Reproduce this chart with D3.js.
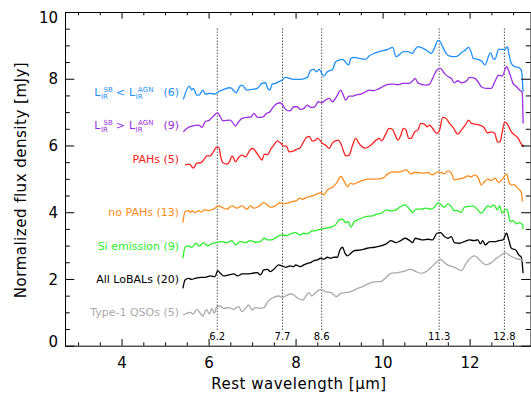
<!DOCTYPE html>
<html>
<head>
<meta charset="utf-8">
<script src="https://cdn.jsdelivr.net/npm/d3@7"></script>
<style>
    body { margin: 0; background: #fff; }
    svg { display: block; font-family: 'DejaVu Sans', sans-serif; }
    .lbl text { white-space: pre; }
</style>
</head>
<body>
<svg id="chart" width="531" height="396"></svg>
<script>
// composite spectra, [wavelength (um), flux (mJy)], already offset as in the figure
const sbLessAgn = [[5.42,7.38],[5.56,7.78],[5.61,7.66],[5.65,7.71],[5.73,7.51],[5.78,7.51],[5.87,7.66],[5.92,7.54],[6.04,7.56],[6.15,7.54],[6.23,7.61],[6.35,7.68],[6.5,7.73],[6.64,7.58],[6.71,7.76],[6.77,7.81],[6.88,7.66],[7.0,7.68],[7.12,7.71],[7.23,7.86],[7.31,7.88],[7.36,7.71],[7.41,7.66],[7.46,7.84],[7.54,7.86],[7.61,7.91],[7.69,7.96],[7.77,8.04],[7.96,7.98],[8.11,7.98],[8.27,8.04],[8.35,8.26],[8.42,8.28],[8.48,8.21],[8.54,8.28],[8.65,8.08],[8.73,8.21],[8.85,8.28],[8.92,8.51],[9.0,8.56],[9.08,8.58],[9.22,8.41],[9.27,8.61],[9.35,8.64],[9.46,8.61],[9.61,8.58],[9.69,8.68],[9.81,8.76],[9.92,8.81],[10.12,8.88],[10.23,8.94],[10.31,8.66],[10.48,8.81],[10.58,8.81],[10.68,8.76],[10.75,8.88],[10.81,8.96],[11.0,8.86],[11.12,8.76],[11.19,8.91],[11.27,9.14],[11.3,9.14],[11.38,8.96],[11.46,8.76],[11.54,8.68],[11.69,8.66],[11.81,8.78],[11.88,8.84],[11.98,8.94],[12.04,8.78],[12.08,8.61],[12.19,8.58],[12.29,8.51],[12.35,8.41],[12.48,8.78],[12.54,8.61],[12.58,8.58],[12.67,8.88],[12.81,8.88],[12.87,8.96],[12.9,8.76],[12.96,8.46],[13.04,8.36],[13.12,8.34],[13.19,8.26],[13.23,7.61]]
const sbMoreAgn = [[5.42,6.41],[5.5,6.51],[5.62,6.58],[5.77,6.61],[5.85,6.54],[5.92,6.71],[6.02,6.76],[6.11,6.88],[6.21,6.98],[6.27,6.86],[6.33,6.74],[6.5,6.76],[6.58,6.64],[6.62,6.58],[6.69,6.71],[6.77,6.81],[6.88,6.84],[6.98,6.86],[7.04,6.96],[7.13,6.84],[7.25,6.86],[7.33,6.96],[7.41,7.01],[7.48,7.14],[7.58,7.26],[7.65,7.28],[7.72,7.18],[7.77,7.08],[7.87,7.04],[7.96,7.16],[8.04,7.16],[8.11,7.08],[8.2,7.12],[8.27,7.21],[8.35,7.14],[8.44,7.16],[8.52,7.31],[8.6,7.28],[8.69,7.36],[8.77,7.41],[8.85,7.31],[8.94,7.46],[9.04,7.66],[9.1,7.5],[9.15,7.36],[9.23,7.48],[9.3,7.48],[9.38,7.51],[9.5,7.54],[9.61,7.61],[9.69,7.66],[9.78,7.64],[9.88,7.68],[10.0,7.76],[10.12,7.83],[10.23,7.84],[10.35,7.82],[10.46,7.86],[10.6,7.86],[10.71,7.96],[10.75,8.01],[10.81,7.88],[10.88,7.84],[11.0,7.81],[11.08,7.84],[11.15,8.01],[11.25,8.26],[11.33,8.31],[11.42,8.16],[11.51,8.06],[11.58,8.01],[11.65,7.88],[11.73,7.94],[11.81,7.88],[11.92,7.92],[12.0,8.04],[12.12,8.01],[12.2,7.9],[12.27,7.76],[12.38,7.71],[12.5,7.71],[12.58,7.91],[12.67,8.11],[12.75,8.08],[12.85,8.36],[12.92,8.16],[13.0,7.86],[13.08,7.76],[13.15,7.66],[13.21,7.58],[13.23,6.66]]
const pahs = [[5.46,5.42],[5.56,5.44],[5.65,5.32],[5.73,5.47],[5.82,5.48],[5.9,5.59],[5.96,5.69],[6.04,5.69],[6.11,5.81],[6.19,5.95],[6.24,5.93],[6.28,5.66],[6.33,5.48],[6.42,5.44],[6.48,5.51],[6.54,5.69],[6.62,5.51],[6.69,5.64],[6.77,5.71],[6.85,5.66],[6.96,5.88],[7.02,5.91],[7.1,5.79],[7.17,5.66],[7.23,5.56],[7.28,5.74],[7.35,5.72],[7.44,5.91],[7.5,6.01],[7.58,6.14],[7.65,6.08],[7.73,5.98],[7.79,5.98],[7.85,5.81],[7.96,5.84],[8.05,5.9],[8.09,5.91],[8.17,6.08],[8.27,6.26],[8.32,6.27],[8.38,6.14],[8.44,6.14],[8.5,6.21],[8.56,6.16],[8.62,6.06],[8.69,6.01],[8.77,5.91],[8.85,6.08],[8.92,6.14],[8.98,6.16],[9.04,6.06],[9.12,5.77],[9.15,5.69],[9.23,5.71],[9.31,6.01],[9.38,6.21],[9.46,6.06],[9.54,5.95],[9.61,5.92],[9.73,6.01],[9.85,6.16],[9.92,6.21],[9.98,6.14],[10.06,6.31],[10.15,6.51],[10.23,6.48],[10.29,6.31],[10.35,6.16],[10.42,6.31],[10.48,6.51],[10.54,6.46],[10.6,6.21],[10.65,6.21],[10.74,6.41],[10.81,6.46],[10.88,6.66],[10.96,6.64],[11.02,6.56],[11.08,6.61],[11.15,6.51],[11.25,6.36],[11.31,6.46],[11.38,6.84],[11.46,6.81],[11.54,6.66],[11.62,6.54],[11.73,6.34],[11.81,6.46],[11.9,6.61],[11.98,6.76],[12.04,6.66],[12.12,6.64],[12.23,6.61],[12.33,6.54],[12.41,6.38],[12.5,6.41],[12.58,6.36],[12.64,6.11],[12.7,6.11],[12.75,6.41],[12.81,6.71],[12.88,6.61],[12.96,6.41],[13.04,6.31],[13.12,6.21],[13.18,6.06],[13.25,5.96]]
const noPahs = [[5.41,3.69],[5.46,4.02],[5.54,4.05],[5.58,3.99],[5.62,4.04],[5.69,3.99],[5.77,4.05],[5.83,4.0],[5.9,4.07],[6.0,4.05],[6.11,4.09],[6.23,4.19],[6.3,4.15],[6.42,4.09],[6.54,4.19],[6.65,4.12],[6.77,4.19],[6.88,4.09],[6.96,4.19],[7.04,4.12],[7.15,4.17],[7.27,4.29],[7.35,4.22],[7.42,4.15],[7.54,4.19],[7.64,4.29],[7.71,4.25],[7.81,4.27],[7.92,4.32],[8.02,4.35],[8.1,4.42],[8.15,4.39],[8.27,4.45],[8.38,4.49],[8.5,4.55],[8.58,4.59],[8.65,4.52],[8.73,4.67],[8.85,4.75],[8.94,4.87],[9.04,5.07],[9.12,4.92],[9.19,4.77],[9.27,4.87],[9.33,4.84],[9.42,4.89],[9.54,4.95],[9.69,4.99],[9.85,4.99],[10.0,5.02],[10.12,5.15],[10.23,5.21],[10.38,5.2],[10.54,5.27],[10.65,5.15],[10.73,5.19],[10.81,5.19],[10.92,5.17],[11.04,5.19],[11.15,5.12],[11.27,5.21],[11.35,5.19],[11.42,5.15],[11.5,5.24],[11.58,5.17],[11.65,4.97],[11.73,4.99],[11.85,5.02],[11.96,5.09],[12.04,5.06],[12.12,5.12],[12.19,5.05],[12.27,4.82],[12.35,4.92],[12.42,4.99],[12.5,4.95],[12.58,5.02],[12.67,4.89],[12.77,5.02],[12.85,5.15],[12.9,4.92],[12.96,4.82],[13.04,4.82],[13.1,4.72],[13.18,4.62],[13.22,4.32]]
const siEmission = [[5.41,2.62],[5.46,2.95],[5.54,2.99],[5.62,2.95],[5.71,3.07],[5.79,2.99],[5.88,3.09],[5.98,2.99],[6.08,3.07],[6.19,3.09],[6.31,3.12],[6.42,3.09],[6.54,3.15],[6.62,3.02],[6.73,3.12],[6.85,3.09],[6.96,3.15],[7.08,3.1],[7.19,3.12],[7.28,3.22],[7.35,3.17],[7.46,3.17],[7.58,3.27],[7.69,3.32],[7.79,3.3],[7.88,3.35],[8.0,3.39],[8.11,3.32],[8.19,3.37],[8.27,3.35],[8.35,3.42],[8.46,3.45],[8.58,3.49],[8.69,3.52],[8.81,3.55],[8.92,3.62],[9.0,3.77],[9.08,3.79],[9.15,3.69],[9.21,3.72],[9.27,3.55],[9.35,3.72],[9.46,3.79],[9.61,3.87],[9.77,3.89],[9.88,3.95],[9.98,3.97],[10.08,4.07],[10.19,4.04],[10.31,4.07],[10.42,4.17],[10.52,4.22],[10.62,4.09],[10.69,3.99],[10.77,4.09],[10.88,4.09],[11.0,4.12],[11.12,4.09],[11.19,4.15],[11.27,4.27],[11.35,4.22],[11.42,4.15],[11.5,4.25],[11.58,4.17],[11.64,4.05],[11.73,4.05],[11.81,3.99],[11.88,4.15],[11.96,4.17],[12.08,4.19],[12.19,4.07],[12.27,3.97],[12.35,4.09],[12.41,4.19],[12.48,4.15],[12.56,4.22],[12.64,4.07],[12.69,4.19],[12.75,3.97],[12.83,4.09],[12.88,4.02],[12.93,3.72],[13.0,3.75],[13.08,3.65],[13.15,3.69],[13.22,3.62],[13.23,3.49]]
const allLobals = [[5.41,1.72],[5.46,1.97],[5.54,2.02],[5.61,1.99],[5.69,2.02],[5.81,2.05],[5.92,2.05],[6.04,2.09],[6.15,2.07],[6.21,2.25],[6.27,2.17],[6.35,2.09],[6.46,2.12],[6.58,2.15],[6.67,2.09],[6.77,2.15],[6.88,2.15],[7.0,2.17],[7.12,2.19],[7.19,2.12],[7.27,2.27],[7.35,2.29],[7.42,2.22],[7.5,2.29],[7.61,2.42],[7.69,2.39],[7.77,2.35],[7.87,2.39],[7.96,2.37],[8.0,2.42],[8.11,2.37],[8.19,2.42],[8.27,2.47],[8.35,2.49],[8.42,2.55],[8.5,2.57],[8.58,2.62],[8.65,2.59],[8.73,2.65],[8.81,2.62],[8.88,2.65],[8.96,2.65],[9.02,2.87],[9.08,2.95],[9.13,2.79],[9.19,2.69],[9.27,2.77],[9.35,2.85],[9.5,2.87],[9.65,2.92],[9.81,2.95],[9.96,2.99],[10.08,3.05],[10.19,3.15],[10.31,3.09],[10.42,3.15],[10.52,3.22],[10.6,3.17],[10.69,3.09],[10.75,3.22],[10.85,3.19],[10.92,3.17],[11.04,3.19],[11.15,3.17],[11.25,3.37],[11.33,3.39],[11.42,3.27],[11.5,3.22],[11.58,3.27],[11.65,3.09],[11.77,3.07],[11.88,3.12],[12.0,3.17],[12.1,3.15],[12.19,3.17],[12.25,3.05],[12.3,3.15],[12.36,3.02],[12.46,3.12],[12.58,3.12],[12.67,3.15],[12.77,3.17],[12.85,3.37],[12.9,3.17],[12.96,2.92],[13.06,2.87],[13.13,2.72],[13.19,2.65],[13.23,2.17]]
const type1Qsos = [[5.42,0.92],[5.5,0.97],[5.58,1.0],[5.65,0.95],[5.73,1.09],[5.81,0.97],[5.87,0.89],[5.95,1.09],[6.02,0.95],[6.08,1.12],[6.13,0.97],[6.19,1.17],[6.25,1.19],[6.35,1.12],[6.46,1.14],[6.58,1.09],[6.69,1.17],[6.77,1.02],[6.85,1.12],[6.92,1.22],[7.0,1.07],[7.08,1.14],[7.15,1.12],[7.27,1.14],[7.38,1.35],[7.5,1.45],[7.61,1.49],[7.69,1.45],[7.77,1.49],[7.88,1.55],[7.96,1.52],[8.05,1.42],[8.17,1.37],[8.24,1.49],[8.31,1.59],[8.37,1.49],[8.46,1.59],[8.58,1.69],[8.69,1.62],[8.81,1.59],[8.94,1.47],[9.04,1.57],[9.15,1.59],[9.27,1.62],[9.38,1.69],[9.54,1.77],[9.69,1.87],[9.85,1.92],[9.96,1.92],[10.08,2.05],[10.19,2.17],[10.35,2.19],[10.46,2.22],[10.58,2.27],[10.65,2.29],[10.77,2.22],[10.88,2.17],[11.0,2.22],[11.12,2.35],[11.23,2.49],[11.33,2.59],[11.42,2.49],[11.54,2.39],[11.65,2.35],[11.81,2.25],[11.92,2.47],[12.04,2.65],[12.12,2.69],[12.23,2.57],[12.38,2.42],[12.5,2.49],[12.62,2.62],[12.73,2.72],[12.83,2.79],[12.9,2.72],[13.0,2.65],[13.12,2.59],[13.19,2.59],[13.23,2.52]]

const spectra = [sbLessAgn, sbMoreAgn, pahs, noPahs, siEmission, allLobals, type1Qsos]
// label pieces: strings, [superscript, subscript] stacks, numbers = extra gap in px
const seriesLabels = [
    ['L', ['SB', 'IR'], 3, '<', 4, 'L', ['AGN', 'IR'], 10, '(6)'],
    ['L', ['SB', 'IR'], 3, '>', 4, 'L', ['AGN', 'IR'], 10, '(9)'],
    ['PAHs (5)'],
    ['no PAHs (13)'],
    ['Si emission (9)'],
    ['All LoBALs (20)'],
    ['Type-1 QSOs (5)']
]
const labelLevels = [7.6, 6.6, 5.6, 4.0, 3.0, 2.0, 1.0]
const colors = ['#1e8fff', '#9b2fe0', '#ff2020', '#ff8c1a', '#2bee2b', '#000000', '#aaaaaa']

const featureLines = [6.2, 7.7, 8.6, 11.3, 12.8]
const featureLabels = ['6.2', '7.7', '8.6', '11.3', '12.8']
const xTicks = [4, 6, 8, 10, 12]
const yTicks = [0, 2, 4, 6, 8, 10]

const svg = d3.select('#chart')
svg.append('rect').attr('width', 531).attr('height', 396).attr('fill', '#fff')

const x = d3.scaleLinear().domain([2.7, 13.4]).range([65, 530.5])
const y = d3.scaleLinear().domain([0, 10]).range([345.7, 12])

const minorX = d3.range(3, 13.5, 0.5).filter(v => v % 2 !== 0)
const minorY = d3.range(0.5, 10, 0.5).filter(v => v % 2 !== 0)

// feature markers
const feat = svg.append('g')
featureLines.forEach((w, i) => {
    feat.append('line')
        .attr('x1', x(w)).attr('x2', x(w))
        .attr('y1', y(9.5)).attr('y2', y(0.45))
        .attr('stroke', '#000').attr('stroke-width', 1)
        .attr('stroke-dasharray', '1,2')
    feat.append('text')
        .attr('x', x(w)).attr('y', y(0.17))
        .attr('text-anchor', 'middle')
        .style('font-size', '10px')
        .text(featureLabels[i])
})

// spectra
const line = d3.line()
    .x(d => x(d[0]))
    .y(d => y(d[1]))
    .curve(d3.curveMonotoneX)

spectra.forEach((s, i) => {
    svg.append('path')
        .datum(s)
        .attr('d', line)
        .attr('fill', 'none')
        .attr('stroke', colors[i])
        .attr('stroke-width', 1.3)
        .attr('stroke-linejoin', 'round')
})

// labels, right aligned
seriesLabels.forEach((pieces, i) => {
    const g = svg.append('g').attr('class', 'lbl').attr('fill', colors[i]).style('font-size', '11px')
    let cx = 0
    pieces.forEach(p => {
        if (typeof p === 'number') {
            cx += p
        } else if (typeof p === 'string') {
            const t = g.append('text').attr('x', cx).attr('y', 0).text(p)
            cx += t.node().getComputedTextLength()
        } else {
            const sup = g.append('text').attr('x', cx + 3).attr('y', -4.5).style('font-size', '7px').text(p[0])
            const sub = g.append('text').attr('x', cx + 0.5).attr('y', 2.5).style('font-size', '7px').text(p[1])
            cx += Math.max(sup.node().getComputedTextLength() + 3, sub.node().getComputedTextLength() + 0.5)
        }
    })
    g.attr('transform', `translate(${179 - cx},${y(labelLevels[i]) + 4})`)
})

// axes
function styleAxis(g) {
    g.select('.domain').attr('stroke', '#000').attr('stroke-width', 1)
    g.selectAll('.tick line').attr('stroke', '#000').attr('stroke-width', 1)
}

svg.append('g').attr('transform', `translate(0,${y(0)})`)
    .call(d3.axisBottom(x).tickValues(xTicks).tickSize(-6.7).tickSizeOuter(0))
    .call(styleAxis)
    .call(g => g.selectAll('text').attr('y', 17).attr('dy', '0.35em').style('font-size', '15px').style('font-family', 'DejaVu Sans'))
svg.append('g').attr('transform', `translate(0,${y(0)})`)
    .call(d3.axisBottom(x).tickValues(minorX).tickSize(-3.3).tickFormat(''))
    .call(styleAxis).call(g => g.select('.domain').remove())

svg.append('g').attr('transform', `translate(0,${y(10)})`)
    .call(d3.axisTop(x).tickValues(xTicks).tickSize(-6.7).tickSizeOuter(0).tickFormat(''))
    .call(styleAxis)
svg.append('g').attr('transform', `translate(0,${y(10)})`)
    .call(d3.axisTop(x).tickValues(minorX).tickSize(-3.3).tickFormat(''))
    .call(styleAxis).call(g => g.select('.domain').remove())

svg.append('g').attr('transform', `translate(${x(2.7)},0)`)
    .call(d3.axisLeft(y).tickValues(yTicks).tickSize(-9.3).tickSizeOuter(0).tickPadding(7))
    .call(styleAxis)
    .call(g => g.selectAll('text')
        .style('font-size', '15px').style('font-family', 'DejaVu Sans')
        .attr('dy', '0.35em')
        .attr('y', d => d === 10 ? 5.3 : d === 0 ? -4.7 : 0))
svg.append('g').attr('transform', `translate(${x(2.7)},0)`)
    .call(d3.axisLeft(y).tickValues(minorY).tickSize(-4.7).tickFormat(''))
    .call(styleAxis).call(g => g.select('.domain').remove())

svg.append('g').attr('transform', `translate(${x(13.4)},0)`)
    .call(d3.axisRight(y).tickValues(yTicks).tickSize(-9.3).tickSizeOuter(0).tickFormat(''))
    .call(styleAxis)
svg.append('g').attr('transform', `translate(${x(13.4)},0)`)
    .call(d3.axisRight(y).tickValues(minorY).tickSize(-4.7).tickFormat(''))
    .call(styleAxis).call(g => g.select('.domain').remove())

// axis titles
svg.append('text')
    .attr('x', 299).attr('y', 389)
    .attr('text-anchor', 'middle')
    .style('font-size', '15px').style('letter-spacing', '0.5px')
    .text('Rest wavelength [\u03bcm]')

svg.append('text')
    .attr('transform', 'translate(26,180) rotate(-90)')
    .attr('text-anchor', 'middle')
    .style('font-size', '15px').style('letter-spacing', '0.5px')
    .text('Normalized flux density [mJy]')
</script>
</body>
</html>
